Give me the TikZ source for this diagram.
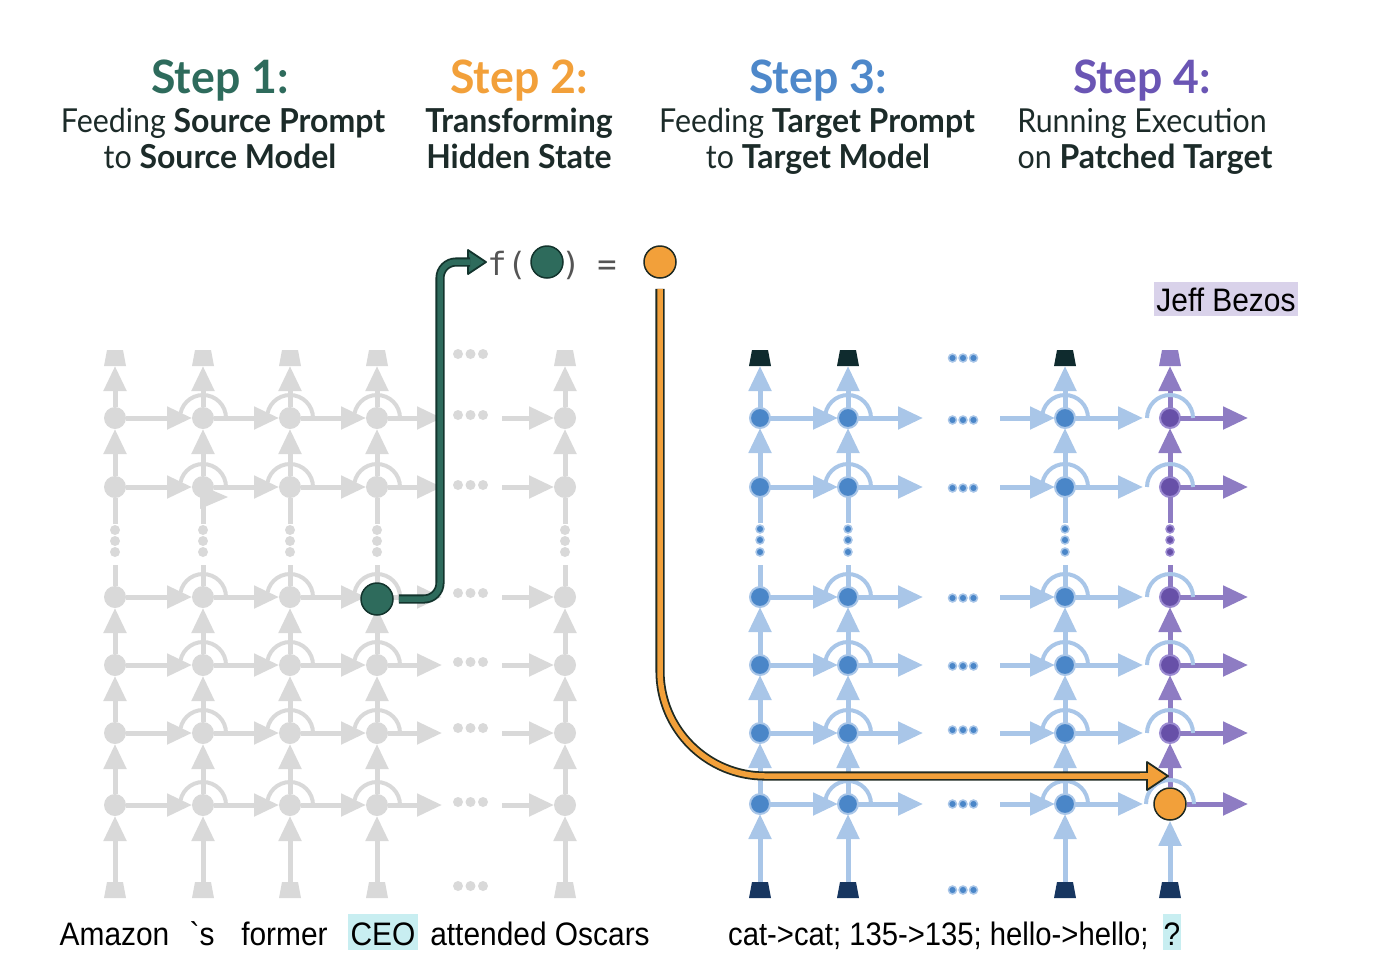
\documentclass[tikz,border=0pt]{standalone}
\usepackage{fontspec}
\setmainfont{Lato}
\newfontfamily\subf{Lato}[FakeStretch=0.92,BoldFeatures={FakeStretch=0.97}]
\newfontfamily\btm[FakeStretch=0.92]{Liberation Sans}
\newfontfamily\btmr[FakeStretch=0.9]{Liberation Sans}
\newfontfamily\mono{DejaVu Sans Mono}
\usetikzlibrary{arrows.meta,calc}
\definecolor{lgray}{HTML}{D9D9D9}
\definecolor{blight}{HTML}{A9C6E8}
\definecolor{bnode}{HTML}{4A86C8}
\definecolor{plight}{HTML}{8E7CC3}
\definecolor{pnode}{HTML}{6750A8}
\definecolor{pring}{HTML}{9C8CD2}
\definecolor{dtop}{HTML}{0F2B2E}
\definecolor{dbot}{HTML}{173660}
\definecolor{cgreen}{HTML}{2E6B5C}
\definecolor{cgreenD}{HTML}{13342D}
\definecolor{corange}{HTML}{F2A03A}
\definecolor{odark}{HTML}{1F2A22}
\definecolor{cblue}{HTML}{4E88CA}
\definecolor{cpurple}{HTML}{6A55B4}
\definecolor{tdark}{HTML}{1C2B29}
\definecolor{jeffbg}{HTML}{D9D2EA}
\definecolor{ceobg}{HTML}{C8EEF1}
\definecolor{monog}{HTML}{555555}
\tikzset{
  tipA/.tip={Triangle[width=22pt,length=25pt]},
  tbox/.style={rectangle,minimum width=22pt,minimum height=16pt,inner sep=0pt,outer sep=0pt},
  gnode/.style={circle,fill=lgray,minimum size=22pt,inner sep=0pt,outer sep=0pt},
  gdot/.style={circle,fill=lgray,minimum size=10pt,inner sep=0pt},
  garr/.style={draw=lgray,line width=5pt,-tipA},
  gline/.style={draw=lgray,line width=5pt},
  garc/.style={draw=lgray,line width=4pt},
  bnodeS/.style={circle,fill=bnode,draw=blight,line width=2pt,minimum size=20pt,inner sep=0pt,outer sep=0pt},
  pnodeS/.style={circle,fill=pnode,draw=pring,line width=2pt,minimum size=20pt,inner sep=0pt,outer sep=0pt},
  bdot/.style={circle,fill=bnode,draw=blight,line width=1.5pt,minimum size=8pt,inner sep=0pt},
  pdot/.style={circle,fill=pnode,draw=pring,line width=1.5pt,minimum size=8pt,inner sep=0pt},
  barr/.style={draw=blight,line width=5pt,-tipA},
  bline/.style={draw=blight,line width=5pt},
  barc/.style={draw=blight,line width=4pt},
  parr/.style={draw=plight,line width=5pt,-tipA},
  pline/.style={draw=plight,line width=5pt},
  ttl/.style={anchor=base,inner sep=0pt,font=\subf\fontsize{46}{50}\selectfont\bfseries},
  sub/.style={anchor=base,inner sep=0pt,text=tdark,font=\subf\fontsize{33}{36}\selectfont},
  btxt/.style={anchor=base,inner sep=0pt,text=black,font=\btm\fontsize{32.5}{36}\selectfont},
  hl/.style={btxt,text height=31pt,text depth=5pt,inner xsep=3pt},
  eqt/.style={anchor=base,inner sep=0pt,text=monog,font=\mono\fontsize{32}{34}\selectfont},
  gpath/.style={draw=cgreenD,double=cgreen,line width=1.8pt,double distance=5.5pt},
  opath/.style={draw=odark,double=corange,line width=1.8pt,double distance=5.5pt},
}
\newcommand{\trapfill}[2]{\fill[#2] ($(#1.north west)+(3,0)$) -- ($(#1.north east)+(-3,0)$) -- (#1.south east) -- (#1.south west) -- cycle;}
\begin{document}
\begin{tikzpicture}[x=1pt,y=-1pt]
\useasboundingbox (0,0) rectangle (1397,962);
% ---------- titles ----------
\node[ttl,text=cgreen] (T1) at (220,93) {Step 1:};
\node[ttl,text=corange] (T2) at (519,93) {Step 2:};
\node[ttl,text=cblue] (T3) at (818,93) {Step 3:};
\node[ttl,text=cpurple] (T4) at (1142,93) {Step 4:};
\node[sub] (S1a) at (223,132) {Feeding \textbf{Source Prompt}};
\node[sub] (S1b) at (220,168) {to \textbf{Source Model}};
\node[sub] (S2a) at (519,132) {\textbf{Transforming}};
\node[sub] (S2b) at (519,168) {\textbf{Hidden State}};
\node[sub] (S3a) at (817,132) {Feeding \textbf{Target Prompt}};
\node[sub] (S3b) at (818,168) {to \textbf{Target Model}};
\node[sub] (S4a) at (1142,132) {Running Execution};
\node[sub] (S4b) at (1145,168) {on \textbf{Patched Target}};
% ---------- left grid ----------
\fill[lgray] (200,485) -- (228,497) -- (200,509) -- cycle;
\foreach \c/\x in {1/115,2/203,3/290,4/377,5/565}{
  \node[tbox] (LT\c) at (\x,358) {};
  \trapfill{LT\c}{lgray}
  \node[tbox] (LB\c) at (\x,890) {};
  \trapfill{LB\c}{lgray}
  \foreach \r/\y in {1/418,2/487,3/597,4/665,5/733,6/805}
    \node[gnode] (L\c\r) at (\x,\y) {};
  \node[gdot] (LVa\c) at (\x,530) {};
  \node[gdot] (LVb\c) at (\x,541) {};
  \node[gdot] (LVc\c) at (\x,552) {};
  \draw[garr] (LB\c.north) -- (L\c6.south);
  \foreach \p/\q in {6/5,5/4,4/3,2/1}
    \draw[garr] (L\c\p.north) -- (L\c\q.south);
  \draw[gline,shorten >=8pt] (L\c3.north) -- (LVc\c.south);
  \draw[gline,shorten <=1pt] (LVa\c.north) -- (L\c2.south);
  \draw[garr] (L\c1.north) -- (LT\c.south);
}
\foreach \r/\y/\d in {1/418/415,2/487/485,3/597/593,4/665/662,5/733/728,6/805/802}{
  \draw[garr] (L1\r.east) -- (L2\r.west);
  \draw[garr] (L2\r.east) -- (L3\r.west);
  \draw[garr] (L3\r.east) -- (L4\r.west);
  \coordinate (LS\r) at (442,\y);
  \coordinate (LE\r) at (502,\y);
  \draw[garr] (L4\r.east) -- (LS\r);
  \draw[garr] (LE\r) -- (L5\r.west);
  \foreach \c in {2,3,4}
    \draw[garc] ($(L\c\r)+(-23,0)$) arc[start angle=180,end angle=0,radius=23pt];
  \node[gdot] (LHa\r) at (458,\d) {};
  \node[gdot] (LHb\r) at (470.5,\d) {};
  \node[gdot] (LHc\r) at (483,\d) {};
}
\foreach \n/\d in {t/354,b/886}{
  \node[gdot] (LHa\n) at (458,\d) {};
  \node[gdot] (LHb\n) at (470.5,\d) {};
  \node[gdot] (LHc\n) at (483,\d) {};
}
% ---------- right grid ----------
\foreach \c/\x in {1/760,2/848,3/1065}{
  \node[tbox] (RT\c) at (\x,358) {};
  \trapfill{RT\c}{dtop}
  \node[tbox] (RB\c) at (\x,890) {};
  \trapfill{RB\c}{dbot}
  \foreach \r/\y in {1/418,2/487,3/597,4/665,5/733,6/804}
    \node[bnodeS] (R\c\r) at (\x,\y) {};
  \node[bdot] (RVa\c) at (\x,529) {};
  \node[bdot] (RVb\c) at (\x,540) {};
  \node[bdot] (RVc\c) at (\x,552) {};
  \draw[barr] (RB\c.north) -- (R\c6.south);
  \foreach \p/\q in {6/5,5/4,4/3,2/1}
    \draw[barr] (R\c\p.north) -- (R\c\q.south);
  \draw[bline,shorten >=8pt] (R\c3.north) -- (RVc\c.south);
  \draw[bline,shorten <=1pt] (RVa\c.north) -- (R\c2.south);
  \draw[barr] (R\c1.north) -- (RT\c.south);
}
% purple column
\node[tbox] (RT4) at (1170,358) {};
\trapfill{RT4}{plight}
\node[tbox] (RB4) at (1170,890) {};
\trapfill{RB4}{dbot}
\foreach \r/\y in {1/418,2/487,3/597,4/665,5/733}
  \node[pnodeS] (R4\r) at (1170,\y) {};
\node[circle,fill=corange,draw=odark,line width=1.5pt,minimum size=32pt,inner sep=0pt] (R46) at (1170,804) {};
\node[pdot] (RVa4) at (1170,529) {};
\node[pdot] (RVb4) at (1170,540) {};
\node[pdot] (RVc4) at (1170,552) {};
\draw[barr] (RB4.north) -- (R46.south);
\draw[parr] (R46.north) -- (R45.south);
\foreach \p/\q in {5/4,4/3,2/1}
  \draw[parr] (R4\p.north) -- (R4\q.south);
\draw[pline,shorten >=8pt] (R43.north) -- (RVc4.south);
\draw[pline,shorten <=1pt] (RVa4.north) -- (R42.south);
\draw[parr] (R41.north) -- (RT4.south);
\foreach \r/\y/\d in {1/418/420,2/487/488,3/597/598,4/665/666,5/733/730,6/804/804}{
  \draw[barr] (R1\r.east) -- (R2\r.west);
  \coordinate (RS\r) at (923,\y);
  \coordinate (RE\r) at (1000,\y);
  \coordinate (RX\r) at (1143,\y);
  \coordinate (PX\r) at (1248,\y);
  \draw[barr] (R2\r.east) -- (RS\r);
  \draw[barr] (RE\r) -- (R3\r.west);
  \draw[barr] (R3\r.east) -- (RX\r);
  \draw[parr] (R4\r.east) -- (PX\r);
  \foreach \c in {2,3}
    \draw[barc] ($(R\c\r)+(-23,0)$) arc[start angle=180,end angle=0,radius=23pt];
  \node[bdot] (RHa\r) at (952.5,\d) {};
  \node[bdot] (RHb\r) at (963,\d) {};
  \node[bdot] (RHc\r) at (973.5,\d) {};
}
\foreach \r in {1,2,3,4,5}
  \draw[barc] ($(R4\r)+(-23,0)$) arc[start angle=180,end angle=0,radius=23pt];
\draw[barc] ($(R46)+(-24,0)$) arc[start angle=180,end angle=0,radius=24pt];
\foreach \n/\d in {t/358,b/890}{
  \node[bdot] (RHa\n) at (952.5,\d) {};
  \node[bdot] (RHb\n) at (963,\d) {};
  \node[bdot] (RHc\n) at (973.5,\d) {};
}
% ---------- source hidden state & equation ----------
\node[circle,fill=cgreen,draw=cgreenD,line width=1.5pt,minimum size=32pt,inner sep=0pt] (G) at (377,599) {};
\node[eqt] (Ff) at (497,275) {f};
\node[eqt] (Fl) at (517,275) {(};
\node[circle,fill=cgreen,draw=cgreenD,line width=1.5pt,minimum size=32pt,inner sep=0pt] (G2) at (547,262) {};
\node[eqt] (Fr) at (571,275) {)};
\node[eqt] (Fe) at (607,275) {=};
\node[circle,fill=corange,draw=odark,line width=1.5pt,minimum size=32pt,inner sep=0pt] (O1) at (660,262) {};
\coordinate (GT) at (470,262);
\fill[cgreen,draw=cgreenD,line width=1.8pt,line join=round] (468,250) -- (486,262) -- (468,274) -- cycle;
\draw[gpath,rounded corners=16pt,shorten <=5pt] (G.east) -- (440,599) -- (440,262) -- (GT);
\coordinate (OT) at (1150,776);
\draw[opath,rounded corners=105pt,shorten <=10pt] (O1.south) -- (660,776) -- (OT);
\fill[corange,draw=odark,line width=1.8pt,line join=round] (1147,762) -- (1168,776) -- (1147,790) -- cycle;
\draw[corange,line width=5.5pt] (1140,776) -- (1149,776);
% ---------- labels ----------
\node[btxt,fill=jeffbg,text height=29pt,text depth=5pt,inner xsep=2pt] (JB) at (1226,311) {Jeff Bezos};
\node[btxt] (W1) at (114.5,945) {Amazon};
\node[btxt] (W2) at (202,945) {`s};
\node[btxt] (W3) at (284.5,945) {former};
\node[hl,fill=ceobg] (W4) at (383,945) {CEO};
\node[btxt] (W5) at (540,945) {attended Oscars};
\node[btxt,anchor=base west,font=\btmr\fontsize{32.5}{36}\selectfont] (W6) at (728,945) {cat->cat; 135->135; hello->hello;};
\node[hl,fill=ceobg,inner xsep=0.5pt] (W7) at (1172,945) {?};
\end{tikzpicture}
\end{document}
